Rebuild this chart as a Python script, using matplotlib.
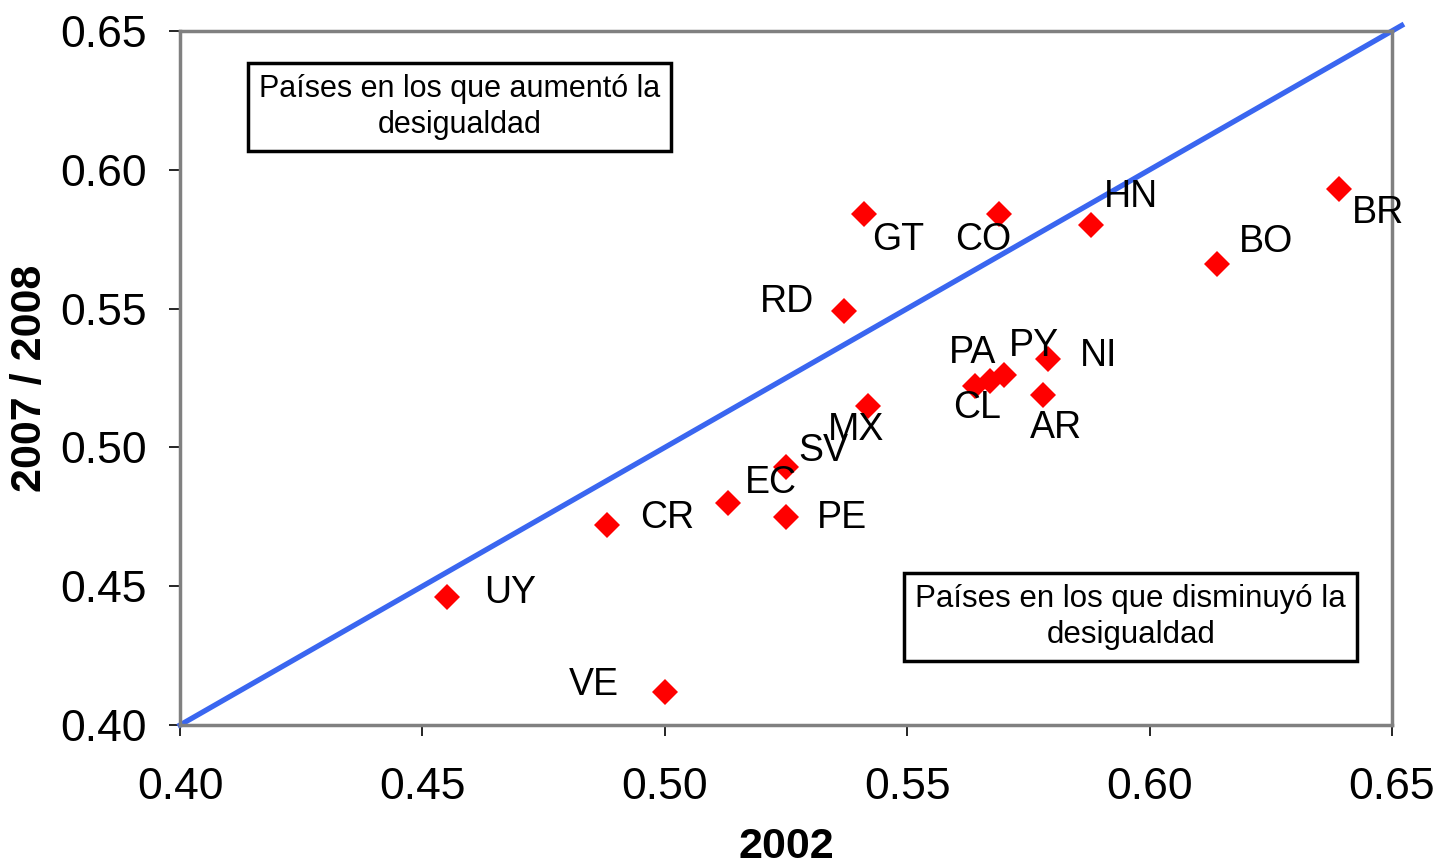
import matplotlib
matplotlib.use('Agg')
import matplotlib.pyplot as plt

plt.rcParams['font.family'] = ['Liberation Sans', 'DejaVu Sans']

# Gini 2002 vs 2007/2008
countries = ['UY', 'VE', 'CR', 'EC', 'PE', 'SV', 'MX', 'RD', 'GT', 'CO',
             'HN', 'BO', 'BR', 'NI', 'AR', 'CL', 'PA', 'PY']
gini2002 = [0.455, 0.500, 0.488, 0.513, 0.525, 0.525, 0.542, 0.537, 0.541, 0.569,
            0.588, 0.614, 0.639, 0.579, 0.578, 0.564, 0.567, 0.570]
gini2007 = [0.446, 0.412, 0.472, 0.480, 0.475, 0.493, 0.515, 0.549, 0.584, 0.584,
            0.580, 0.566, 0.593, 0.532, 0.519, 0.522, 0.524, 0.526]

# label offsets in pixels (dx, dy, ha)
offsets = {
    'UY': (37, 4, 'left'), 'VE': (-46, 7, 'right'), 'CR': (33, 7, 'left'),
    'EC': (17, 20, 'left'), 'PE': (31, -1, 'left'), 'SV': (12, 16, 'left'),
    'MX': (-41, -24, 'left'), 'RD': (-30, 9, 'right'), 'GT': (9, -26, 'left'),
    'CO': (-44, -26, 'left'), 'HN': (12, 28, 'left'), 'BO': (21, 22, 'left'),
    'BR': (13, -24, 'left'), 'NI': (32, 3, 'left'), 'AR': (-13, -33, 'left'),
    'CL': (-22, -22, 'left'), 'PA': (-41, 28, 'left'), 'PY': (5, 29, 'left'),
}

fig = plt.figure(figsize=(14.38, 8.65), dpi=100)
ax = fig.add_axes([0.1252, 0.1618, 0.8428, 0.8024])

ax.plot([0.40, 0.652], [0.40, 0.652], color='#3a66f0', lw=3.8, clip_on=False, zorder=2)
ax.plot(gini2002, gini2007, 'D', color='#ff0000', markersize=13.5, mew=0, zorder=3)

for c, x, y in zip(countries, gini2002, gini2007):
    dx, dy, ha = offsets[c]
    ax.annotate(c, (x, y), xytext=(dx, dy), textcoords='offset pixels',
                ha=ha, va='center', fontsize=27, zorder=4)

ax.set_xlim(0.40, 0.65)
ax.set_ylim(0.40, 0.65)
ticks = [0.40, 0.45, 0.50, 0.55, 0.60, 0.65]
ax.set_xticks(ticks)
ax.set_yticks(ticks)
ax.set_xticklabels(['%.2f' % t for t in ticks])
ax.set_yticklabels(['%.2f' % t for t in ticks])
ax.tick_params(labelsize=32, direction='out', length=8, width=1.2, color='black')
ax.tick_params(axis='x', pad=22)
ax.tick_params(axis='y', pad=16)
for s in ax.spines.values():
    s.set_color('#808080')
    s.set_linewidth(2.5)

ax.set_xlabel('2002', fontsize=31, fontweight='bold')
ax.set_ylabel('2007 / 2008', fontsize=31, fontweight='bold')
ax.xaxis.set_label_coords(0.5, -0.147)
ax.yaxis.set_label_coords(-0.107, 0.5)

box = dict(boxstyle='square,pad=0.35', facecolor='white', edgecolor='black', lw=2.5)
ax.text(0.4576, 0.6226, 'Países en los que aumentó la\ndesigualdad', ha='center', va='center',
        fontsize=22, linespacing=1.3, bbox=box, zorder=5)
ax.text(0.5961, 0.4389, 'Países en los que disminuyó la\ndesigualdad', ha='center', va='center',
        fontsize=22.5, linespacing=1.3, bbox=box, zorder=5)

fig.savefig('out.png', dpi=100)
